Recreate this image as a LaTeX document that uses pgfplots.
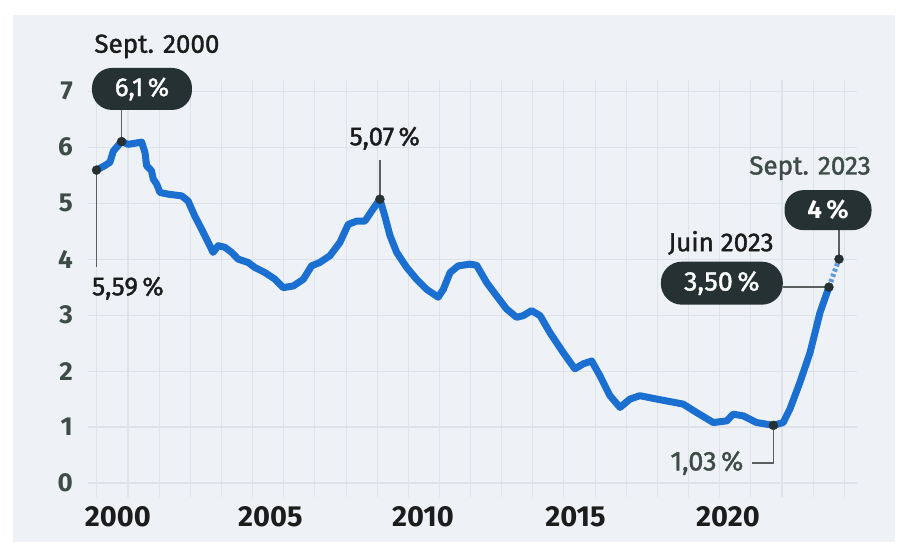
\documentclass[border=0pt]{standalone}
\usepackage{pgfplots}
\pgfplotsset{compat=1.18}
\usepackage{fontspec}
\setmainfont{Fira Sans}
\newfontfamily\medfont{Fira Sans}[FakeBold=1.4]
\definecolor{panel}{HTML}{EEF2F6}
\definecolor{gridc}{HTML}{DEE3E9}
\definecolor{lineblue}{HTML}{1A6FD1}
\definecolor{boxc}{HTML}{263134}
\definecolor{txt}{HTML}{1C1C1C}
\definecolor{ytxt}{HTML}{3E4C46}
\definecolor{leadc}{HTML}{5A5F60}
\begin{document}
\begin{tikzpicture}[x=1pt,y=1pt]
\fill[white] (0,0) rectangle (903,547);
\fill[panel] (13,5) rectangle (895,532);
\begin{axis}[
  at={(88pt,50pt)}, anchor=south west,
  width=769pt, height=417pt, scale only axis,
  xmin=1999.02, xmax=2024.23, ymin=-0.25, ymax=7.2,
  axis line style={draw=none},
  clip=false,
  xtick={2000,2005,2010,2015,2020},
  xticklabels={2000,2005,2010,2015,2020},
  minor xtick={1999.31,2000.33,2001.35,2002.37,2003.39,2004.41,2005.43,2006.46,2007.48,2008.50,2009.52,2010.54,2011.56,2012.58,2013.60,2014.62,2015.65,2016.67,2017.69,2018.71,2019.73,2020.75,2021.77,2022.79,2023.81},
  ytick={0,1,2,3,4,5,6,7},
  major tick length=0pt, minor tick length=0pt,
  xmajorgrids=false, xminorgrids=true, ymajorgrids=true,
  minor x grid style={gridc, line width=1.1pt},
  major y grid style={gridc, line width=1.1pt},
  /pgf/number format/assume math mode=true,
  xticklabel style={font=\bfseries\fontsize{29}{30}\selectfont, text=txt, anchor=north, inner sep=0pt, yshift=-9pt},
  yticklabel style={font=\bfseries\fontsize{26}{27}\selectfont, text=ytxt, anchor=east, inner sep=0pt, xshift=-15pt},
]
% main series
\addplot[lineblue, line width=7pt, line join=round, line cap=round] coordinates {
(1999.30,5.59) (1999.57,5.67) (1999.74,5.73) (1999.85,5.93) (2000.12,6.10)
(2000.34,6.05) (2000.56,6.07) (2000.78,6.09) (2000.89,5.90) (2000.94,5.67)
(2001.10,5.58) (2001.16,5.43) (2001.27,5.34) (2001.38,5.19) (2001.65,5.16)
(2002.09,5.13) (2002.30,5.04) (2002.52,4.77) (2002.74,4.54) (2002.96,4.30)
(2003.12,4.12) (2003.29,4.24) (2003.51,4.21) (2003.73,4.12) (2003.94,4.00)
(2004.27,3.94) (2004.49,3.85) (2004.82,3.76) (2005.15,3.64) (2005.42,3.49)
(2005.75,3.52) (2006.08,3.64) (2006.35,3.88) (2006.62,3.94) (2006.95,4.06)
(2007.28,4.30) (2007.55,4.62) (2007.83,4.68) (2008.10,4.68) (2008.32,4.86)
(2008.59,5.07) (2008.75,4.77) (2008.92,4.42) (2009.14,4.12) (2009.47,3.85)
(2009.79,3.64) (2010.12,3.46) (2010.50,3.32) (2010.67,3.46) (2010.89,3.76)
(2011.16,3.88) (2011.54,3.91) (2011.76,3.89) (2012.09,3.58) (2012.42,3.34)
(2012.74,3.11) (2013.07,2.96) (2013.29,2.99) (2013.56,3.08) (2013.84,2.99)
(2014.16,2.69) (2014.60,2.33) (2014.98,2.04) (2015.26,2.13) (2015.53,2.18)
(2015.80,1.92) (2016.13,1.56) (2016.46,1.35) (2016.79,1.50) (2017.11,1.56)
(2017.66,1.50) (2018.53,1.41) (2018.97,1.26) (2019.52,1.08) (2019.96,1.11)
(2020.17,1.23) (2020.50,1.20) (2020.94,1.08) (2021.49,1.03) (2021.81,1.08)
(2022.03,1.32) (2022.36,1.80) (2022.69,2.33) (2023.02,3.05) (2023.31,3.50)
};
% dotted projection
\addplot[lineblue!70, line width=5pt, dash pattern=on 3pt off 2.5pt] coordinates {
(2023.31,3.50) (2023.64,4.00)
};
% leader lines
\draw[leadc, line width=1.2pt] (axis cs:2000.12,6.66) -- (axis cs:2000.12,6.10);
\draw[leadc, line width=1.2pt] (axis cs:1999.30,5.59) -- (axis cs:1999.30,3.86);
\draw[leadc, line width=1.2pt] (axis cs:2008.59,5.77) -- (axis cs:2008.59,5.07);
\draw[leadc, line width=1.2pt] (axis cs:2023.64,4.52) -- (axis cs:2023.64,4.00);
\draw[leadc, line width=1.2pt] (axis cs:2021.80,3.50) -- (axis cs:2023.31,3.50);
\draw[leadc, line width=1.2pt] (axis cs:2021.49,1.03) -- (axis cs:2021.49,0.357) -- (axis cs:2020.79,0.357);
% highlighted points
\addplot[only marks, mark=*, mark size=4.5pt, boxc] coordinates {
(1999.30,5.59) (2000.12,6.10) (2008.59,5.07) (2021.49,1.03) (2023.31,3.50) (2023.64,4.00)
};
% labels
\node[font=\medfont\fontsize{26}{27}\selectfont, text=txt] at (axis cs:2001.28,7.80) {Sept. 2000};
\node[fill=boxc, rounded corners=20pt, minimum width=100pt, minimum height=42pt, inner sep=0pt, text=white, font=\medfont\fontsize{26}{27}\selectfont] at (axis cs:2000.79,7.04) {6,1\,\%};
\node[font=\medfont\fontsize{26}{27}\selectfont, text=txt] at (axis cs:2000.33,3.48) {5,59\,\%};
\node[font=\medfont\fontsize{26}{27}\selectfont, text=txt] at (axis cs:2008.75,6.16) {5,07\,\%};
\node[font=\medfont\fontsize{26}{27}\selectfont, text=ytxt] at (axis cs:2022.69,5.625) {Sept. 2023};
\node[fill=boxc, rounded corners=19pt, minimum width=87pt, minimum height=40pt, inner sep=0pt, text=white, font=\bfseries\fontsize{26}{27}\selectfont] at (axis cs:2023.28,4.875) {4\,\%};
\node[font=\medfont\fontsize{26}{27}\selectfont, text=txt] at (axis cs:2019.77,4.29) {Juin 2023};
\node[fill=boxc, rounded corners=21pt, minimum width=122pt, minimum height=43pt, inner sep=0pt, text=white, font=\medfont\fontsize{27}{28}\selectfont] at (axis cs:2019.80,3.57) {3,50\,\%};
\node[font=\medfont\fontsize{27}{28}\selectfont, text=ytxt] at (axis cs:2019.31,0.357) {1,03\,\%};
\end{axis}
\end{tikzpicture}
\end{document}
